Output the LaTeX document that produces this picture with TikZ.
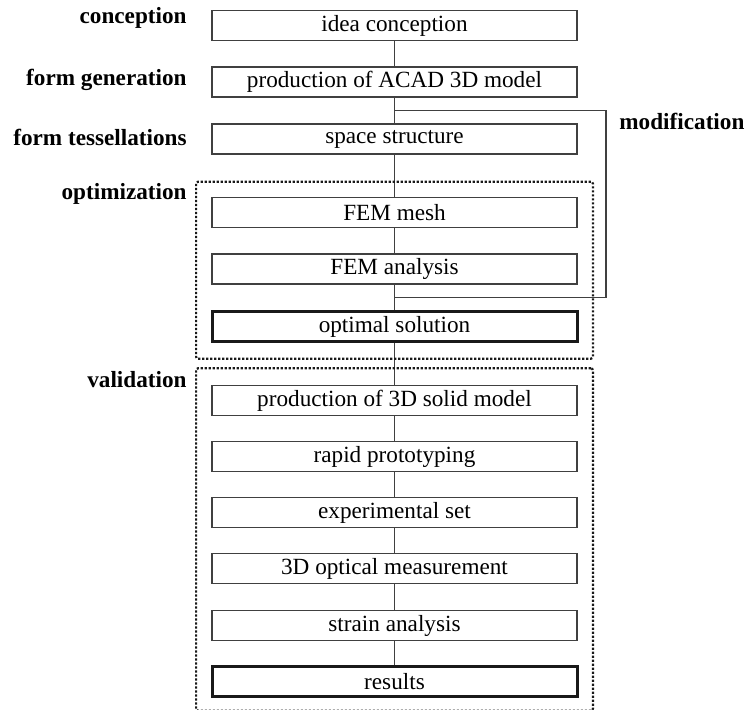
\documentclass[tikz,border=0pt]{standalone}
\usepackage{fontspec}
\setmainfont{Liberation Serif}
\usetikzlibrary{positioning,fit,calc}

\begin{document}
\begin{tikzpicture}[
  x=0.5pt, y=-0.5pt,
  font=\fontsize{11.6}{13}\selectfont,
  stage/.style={rectangle, draw=black!75, line width=0.6pt, minimum width=182.5pt,
                minimum height=15pt, inner sep=0pt, align=center},
  final/.style={stage, draw=black!90, line width=1.5pt},
  frame/.style={rectangle, draw=black!90, line width=1.1pt, dash pattern=on 1.1pt off 0.9pt,
                rounded corners=1pt, inner xsep=7.2pt},
  a/.style={line width=0.6pt, black!75},
  band/.style={font=\fontsize{11.6}{13}\selectfont\bfseries, anchor=east, inner sep=0pt},
]
\useasboundingbox (0,0) rectangle (746,710);

% ---- design chain
\node[stage] (idea) at (394.5,25.5) {idea conception};
\node[stage] (gen)  at (394.5,82)   {production of ACAD 3D model};
\node[stage] (tess) at (394.5,139)  {space structure};

% ---- optimization loop
\node[stage] (mesh) at (394.5,212.5) {FEM mesh};
\node[stage] (fem)  at (394.5,269)   {FEM analysis};
\node[final] (opt)  at (394.5,327)   {optimal solution};

% ---- validation chain
\foreach \n/\y/\t in {solid/400.5/production of 3D solid model,
                      rapid/456.5/rapid prototyping,
                      exper/512.5/experimental set,
                      optic/568.5/3D optical measurement,
                      strain/625.5/strain analysis} {
  \node[stage] (\n) at (394.5,\y) {\t};
}
\node[final] (res) at (394.5,682) {results};

\foreach \u/\v in {idea/gen, gen/tess, tess/mesh, mesh/fem, fem/opt, opt/solid,
                   solid/rapid, rapid/exper, exper/optic, optic/strain, strain/res} {
  \draw[a] (\u) -- (\v);
}

% ---- dotted groups
\node[frame, inner ysep=7.6pt, fit=(mesh)(opt)] (optframe) {};
\node[frame, inner ysep=7.2pt, yshift=1.1pt, fit=(solid)(res)] (valframe) {};

% ---- modification feedback
\coordinate (modout) at ($(gen.south)!0.5!(tess.north)$);
\coordinate (modin)  at ($(fem.south)!0.5!(opt.north)$);
\draw[a] (modout) -- ++(211.5,0) |- (modin);
\node[band, anchor=west] at (619,121) {modification};

% ---- phase names
\node[band] at (187,18)  {conception};
\node[band] at (187,80)  {form generation};
\node[band] at (187,137) {form tessellations};
\node[band] at (187,194) {optimization};
\node[band] at (187,380) {validation};
\end{tikzpicture}
\end{document}
